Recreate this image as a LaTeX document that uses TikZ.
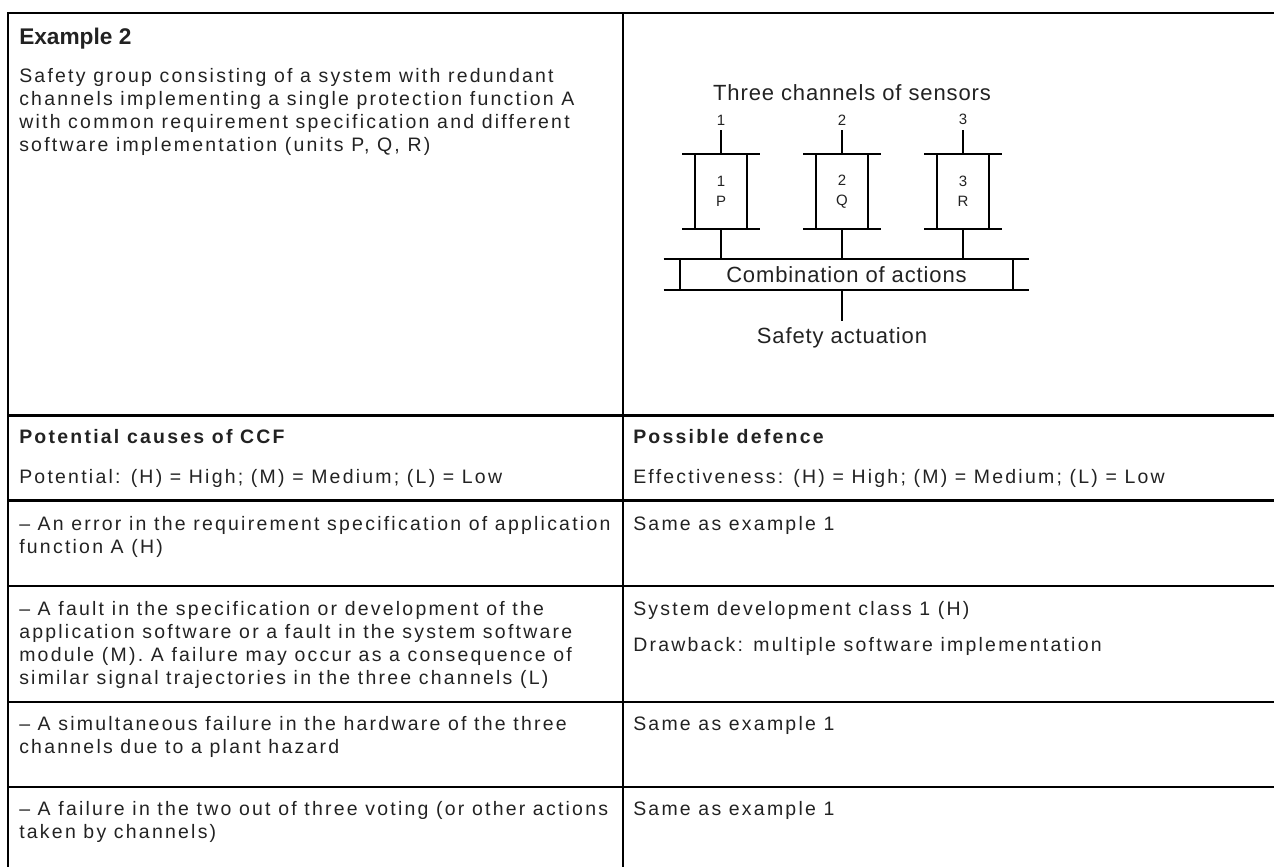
\documentclass[tikz,border=0pt]{standalone}
\usepackage{fontspec}
\setmainfont{Liberation Sans}
\newfontfamily\cellfont{Liberation Sans}[LetterSpace=11.5]
\newfontfamily\diafont{Liberation Sans}[LetterSpace=4]
\usetikzlibrary{calc,positioning}
\definecolor{ink}{HTML}{222222}

\begin{document}
\begin{tikzpicture}[x=0.75pt,y=-0.75pt,
    rule/.style={line width=2.2pt},
    wire/.style={line width=1.6pt},
    cell/.style={anchor=base west,align=left,inner sep=0pt,text=ink,
        font=\cellfont\fontsize{14.6}{17.25}\selectfont},
    cellpar/.style={cell,anchor=north west},
    cellhead/.style={cell,font=\cellfont\bfseries\fontsize{14.6}{17.25}\selectfont},
    chan/.style={minimum width=39pt,minimum height=56.25pt,inner sep=0pt,align=center,
        text=ink,font=\diafont\fontsize{11.25}{15}\selectfont},
    chnum/.style={anchor=south,inner sep=3.5pt,text=ink,font=\diafont\fontsize{11.25}{15}\selectfont},
    bigtext/.style={inner sep=0pt,text=ink,font=\diafont\fontsize{16.5}{20}\selectfont}]
    %%%%% START %%%%%
    \useasboundingbox (0,0) rectangle (1274,867);

    % table rules
    \draw[rule] (8,867) -- (8,13) -- (1274,13);
    \draw[rule] (623,13) -- (623,867);
    \foreach \y in {415.5,500.5,586,702,787}
        \draw[rule] (8,\y) -- (1274,\y);

    % first row
    \node[cell,font=\bfseries\fontsize{17}{20}\selectfont] (example) at (19,45) {Example 2};
    \node[cellpar] (setup) at (19,68) {Safety group consisting of a system with redundant\\
        channels implementing a single protection function A\\
        with common requirement specification and different\\
        software implementation (units P, Q, R)};

    % diagram
    \node[bigtext] (sensors) at (852,93) {Three channels of sensors};
    \node[chan] (p) at (721,191.5) {1\\P};
    \node[chan] (q) at (842,191.5) {2\\Q};
    \node[chan] (r) at (963,191.5) {3\\R};
    \node[chnum] (n1) at (721,130) {1};
    \node[chnum] (n2) at (842,130) {2};
    \node[chnum] (n3) at (963,130) {3};
    \foreach \c/\n in {p/n1,q/n2,r/n3} {
        \draw[wire] (\c.north west) -- (\c.south west) (\c.north east) -- (\c.south east);
        \draw[wire] ($(\c.north west)+(-12.5,0)$) -- ($(\c.north east)+(12.5,0)$);
        \draw[wire] ($(\c.south west)+(-12.5,0)$) -- ($(\c.south east)+(12.5,0)$);
        \draw[wire] (\n.south) -- (\c.north);
    }
    \node[bigtext,minimum width=249.75pt,minimum height=22.9pt] (comb) at (846.5,274.75) {Combination of actions};
    \draw[wire] (comb.north west) -- (comb.south west) (comb.north east) -- (comb.south east);
    \draw[wire] ($(comb.north west)+(-16,0)$) -- ($(comb.north east)+(16,0)$);
    \draw[wire] ($(comb.south west)+(-16,0)$) -- ($(comb.south east)+(16,0)$);
    \foreach \c in {p,q,r}
        \draw[wire] (\c.south) -- (\c.south |- comb.north);
    \node[bigtext,anchor=north,inner sep=4.5pt] (act) at (842,321) {Safety actuation};
    \draw[wire] (comb.south -| act.north) -- (act.north);

    % header row
    \node[cellhead] (causes) at (19,443) {Potential causes of CCF};
    \node[cell] (potential) at (19,483) {Potential: (H) = High; (M) = Medium; (L) = Low};
    \node[cellhead] (defence) at (633,443) {Possible defence};
    \node[cell] (effect) at (633,483) {Effectiveness: (H) = High; (M) = Medium; (L) = Low};

    % causes and defences
    \node[cellpar] (cause1) at (19,516) {– An error in the requirement specification of application\\
        function A (H)};
    \node[cell] (def1) at (633,530) {Same as example 1};
    \node[cellpar] (cause2) at (19,601) {– A fault in the specification or development of the\\
        application software or a fault in the system software\\
        module (M). A failure may occur as a consequence of\\
        similar signal trajectories in the three channels (L)};
    \node[cell] (def2) at (633,615) {System development class 1 (H)};
    \node[cell] (def2b) at (633,651) {Drawback: multiple software implementation};
    \node[cellpar] (cause3) at (19,716) {– A simultaneous failure in the hardware of the three\\
        channels due to a plant hazard};
    \node[cell] (def3) at (633,730) {Same as example 1};
    \node[cellpar] (cause4) at (19,801) {– A failure in the two out of three voting (or other actions\\
        taken by channels)};
    \node[cell] (def4) at (633,815) {Same as example 1};
    %%%%% END %%%%%
\end{tikzpicture}
\end{document}
